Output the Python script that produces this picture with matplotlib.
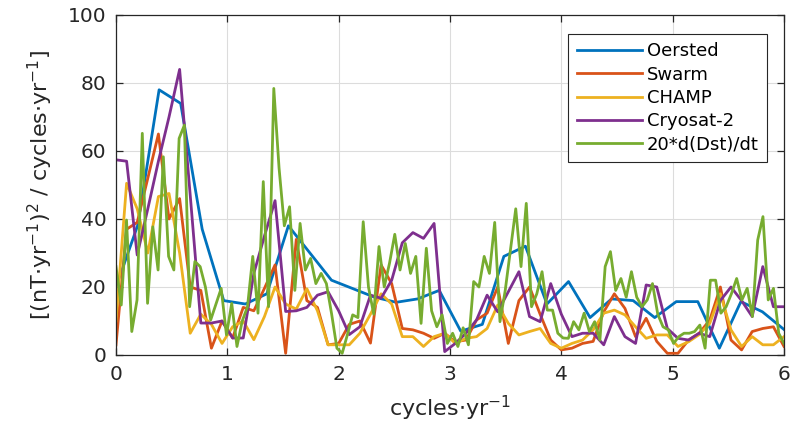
import numpy as np
import matplotlib
matplotlib.use("Agg")
import matplotlib.pyplot as plt

# power spectra
oersted = [20, 38, 78, 74, 37, 16, 15, 18, 38, 30, 22, 19.5, 17, 15.5, 16.5, 19,
           7, 9, 29, 32, 15, 21.6, 11, 16.5, 16, 11, 15.7, 15.7, 2, 15.7, 12.7, 7.5]

swarm = [3, 37, 39, 52, 65, 40, 46, 20, 19, 2, 10, 5, 14, 13, 19.6, 26.5,
         0.5, 34, 16, 14, 3, 3.4, 9, 10, 3.5, 26.5, 21, 7.8, 7.4, 6.4, 4.9, 6.4,
         3.9, 4.4, 10.3, 12.3, 20, 3.4, 16, 20, 12, 4.4, 1.5, 2, 3.4, 4, 12.7, 18,
         13.7, 5.4, 10.8, 4, 0.5, 0.5, 4.4, 6.4, 10.3, 20, 4.4, 1.5, 6.9, 7.8, 8.3, 2.5]

champ = [10, 50.5, 43, 30, 46.6, 47.5, 30, 6.4, 12, 9, 3.4, 8.3, 10, 4.5, 11.3, 20,
         15, 13.5, 19.5, 13, 3, 3, 3, 6.4, 12, 18, 15, 5.4, 5.4, 2.5, 5.4, 6.4,
         3.4, 4.9, 5.4, 7.8, 14.7, 9.3, 5.9, 6.9, 7.8, 3.4, 2, 3.4, 4.4, 7.4, 12.3, 13.2,
         11.8, 8.3, 4.9, 5.9, 5.9, 2.5, 3.9, 6, 9.3, 18, 7.4, 2.5, 5.4, 3, 3, 5.4]

cryosat = [57.4, 57, 29.4, 43, 57, 70, 84, 47, 9.4, 9.4, 10, 5, 5, 24, 35, 45.4,
           12.8, 13, 14, 17.6, 18.6, 13, 6, 8.3, 17.6, 16.7, 22, 33, 36, 34.3, 38.7, 1,
           3.4, 6.4, 10.3, 17.6, 12.7, 18.6, 24.5, 11.3, 9.8, 21, 12, 5.4, 6.4, 6.4, 3, 11.3,
           5.4, 3.4, 20.6, 20, 7.8, 4.9, 4.4, 6.4, 5.4, 16, 20, 16, 11.3, 26, 14.2, 14.2]

dst = [26, 14.7, 39.7, 6.9, 16.2, 65.2, 15.2, 37.7, 25, 58.3, 29, 25, 63.7, 67.6, 14.2, 27.5,
       26, 20, 10.3, 15, 19.6, 5.9, 15.2, 2.5, 10, 14.2, 29, 12.3, 51, 14.2, 78.4, 55,
       38, 43.6, 19, 38.7, 25, 28.4, 21, 24, 21, 12, 2, 0.5, 6, 11.8, 11, 39.2,
       20, 12, 31.9, 20, 27, 35.5, 25, 32.8, 24, 29, 9.3, 31.4, 13, 8.3, 11.8, 3.4,
       6.4, 2.5, 8, 3, 21.6, 20, 29, 24, 39, 9.8, 19, 31, 43, 26, 44.6, 14.2,
       18, 24.5, 13.2, 13.2, 6.4, 5, 4.9, 9.8, 7.4, 12.3, 6.9, 9.8, 4.4, 26, 30.4, 19,
       22.5, 17, 24.5, 17, 14.2, 16.2, 21, 12, 8.3, 7.4, 3.4, 5.4, 6.4, 6.4, 6.9, 8.8,
       2, 22, 22, 12.3, 14.2, 18, 22.5, 16.2, 19.6, 11.3, 33.8, 40.7, 16.2, 19.6, 6.4, 3.4]

labels = ['Oersted', 'Swarm', 'CHAMP', 'Cryosat-2', '20*d(Dst)/dt']
colors = ['#0072BD', '#D95319', '#EDB120', '#7E2F8E', '#77AC30']
series = [oersted, swarm, champ, cryosat, dst]

plt.rcParams['font.family'] = ['DejaVu Sans']
plt.rcParams['mathtext.fontset'] = 'dejavusans'

fig = plt.figure(figsize=(7.91, 4.34), dpi=100)
ax = fig.add_axes([116 / 791, 1 - 355 / 434, 668 / 791, 340 / 434])

for vals, lab, col in zip(series, labels, colors):
    freq = np.linspace(0, 6, len(vals))
    ax.plot(freq, vals, color=col, lw=2.0, label=lab)

ax.set_xlim(0, 6)
ax.set_ylim(0, 100)
ax.set_xticks(range(0, 7))
ax.set_yticks(range(0, 101, 20))
ax.grid(True, color='#dcdcdc', lw=0.8)
ax.set_axisbelow(True)

dark = '#262626'
for sp in ax.spines.values():
    sp.set_color(dark)
    sp.set_linewidth(0.9)
ax.tick_params(direction='in', length=5, width=0.9, colors=dark,
               labelsize=14.5, top=True, right=True, pad=7)

ax.set_xlabel('cycles$\\cdot$yr$^{-1}$', fontsize=16, color=dark, labelpad=7)
ax.set_ylabel('[(nT$\\cdot$yr$^{-1}$)$^2$ / cycles$\\cdot$yr$^{-1}$]',
              fontsize=16, color=dark, labelpad=9)

leg = ax.legend(loc='upper right', bbox_to_anchor=(1 - 17 / 668, 1 - 19 / 340),
                borderaxespad=0, fontsize=13,
                handlelength=3.6, handletextpad=0.3, labelspacing=0.3,
                borderpad=0.45, fancybox=False, framealpha=1, edgecolor=dark)
leg.get_frame().set_linewidth(0.8)

fig.savefig('out.png', dpi=100)
